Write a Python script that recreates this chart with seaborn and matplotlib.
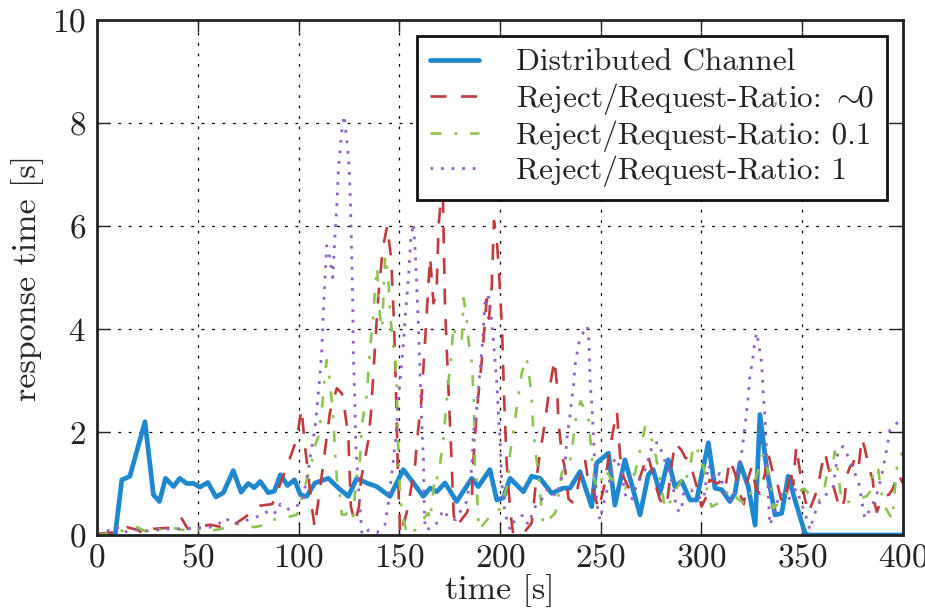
import numpy as np
import pandas as pd
import matplotlib
matplotlib.use("Agg")
import matplotlib.pyplot as plt
import seaborn as sns

# ---------------- data ----------------
blue_t = [0, 9, 12.3, 16.3, 23.8, 28, 31, 34, 38, 41,
          44.5, 48, 51, 55, 59, 62.7, 67.6, 71.5, 75, 78,
          81, 85, 88, 91, 94.5, 98, 101, 104, 108.2, 114.8,
          119.8, 124.7, 128.9, 133.8, 138.8, 145.4, 152, 157, 161.9, 165.3,
          168.6, 172.7, 178.5, 186, 189.2, 195, 198.4, 201.6, 205, 211.6,
          215.7, 219.9, 225.6, 231.4, 234.7, 239.7, 245.5, 248, 253.8, 257,
          262, 269.5, 273.6, 276, 279.4, 283.5, 286.8, 290.2, 294.3, 297.6,
          303.4, 306.7, 310, 314.1, 316.6, 319.1, 323.2, 326.6, 329, 332.4,
          336.5, 339.8, 343, 346.4, 351.4, 353, 400]
blue_v = [0, 0, 1.07, 1.14, 2.2, 0.78, 0.65, 1.1, 0.94, 1.1,
          1.0, 1.0, 0.93, 1.02, 0.74, 0.82, 1.25, 0.83, 1.0, 0.92,
          1.04, 0.82, 0.85, 1.17, 0.96, 1.07, 0.78, 0.75, 1.01, 1.10,
          0.91, 0.75, 1.10, 1.01, 0.94, 0.75, 1.27, 1.01, 0.75, 0.91,
          0.84, 1.01, 0.65, 1.10, 0.94, 1.27, 0.68, 0.72, 1.10, 0.84,
          1.14, 1.10, 0.81, 0.91, 0.91, 1.23, 0.55, 1.40, 1.59, 0.58,
          1.46, 0.39, 1.17, 1.27, 0.81, 1.46, 0.94, 1.04, 0.68, 0.68,
          1.79, 0.91, 0.88, 0.65, 0.81, 1.40, 0.94, 0.19, 2.34, 1.27,
          0.39, 0.42, 1.14, 0.68, 0.03, 0, 0]

red_t = [0, 8, 15, 20, 24, 28, 36, 42, 45, 50,
         56, 61, 68, 74, 78, 81, 87, 91, 93, 96,
         99, 101.5, 103, 104, 106.5, 108, 111.5, 113, 115.6, 119,
         121.5, 123, 124.7, 126, 128, 130, 131, 134.7, 136, 138,
         139.6, 141.8, 144, 146, 147.4, 148.5, 149.3, 150.5, 153.7, 157.8,
         158.7, 161, 163, 165.3, 167, 168.5, 169.5, 171.5, 172.7, 174,
         175.8, 177, 178.2, 183.5, 186, 186.8, 188.4, 191, 193.4, 194.5,
         195.9, 197, 198.4, 199.5, 201, 202, 203.3, 205, 206.5, 208.3,
         211, 215.7, 218, 219.9, 222.3, 224, 225.6, 227, 228.3, 229,
         230.6, 232.3, 234, 236.4, 238.4, 239.7, 242.2, 244, 246, 249,
         252, 253.7, 256, 258, 259.6, 261.2, 264, 268, 271, 273.4,
         275.3, 277, 279.4, 282.7, 285, 286.8, 290, 292, 294, 296.7,
         298, 300, 302.5, 304, 308, 311, 312, 314, 316.6, 319,
         321, 322.4, 325, 327, 329, 331.5, 333, 335.5, 338, 340,
         342, 344, 345.5, 347, 349, 351.4, 353, 356.3, 358, 359.6,
         361.3, 363, 366, 367.8, 369.7, 371, 372, 373.7, 375, 376,
         378, 379.5, 381, 383, 385, 386, 387, 390, 393, 395,
         397.5, 400]
red_v = [0.02, 0.05, 0.15, 0.1, 0.0, 0.12, 0.14, 0.32, 0.12, 0.15,
         0.2, 0.16, 0.2, 0.36, 0.5, 0.57, 0.6, 1.0, 1.2, 1.52,
         1.85, 2.45, 1.8, 1.46, 0.58, 0.15, 1.14, 1.6, 2.38, 2.85,
         2.75, 2.4, 1.92, 0.55, 0.22, 0.55, 1.07, 1.85, 2.4, 3.67,
         4.64, 5.56, 6.0, 5.36, 4.1, 2.6, 1.2, 0.0, 0.43, 1.33,
         1.79, 2.63, 3.9, 5.4, 4.5, 4.7, 6.0, 6.9, 4.45, 3.2,
         1.6, 0.4, 0.16, 0.43, 0.68, 1.46, 2.37, 3.4, 4.58, 4.2,
         4.84, 6.1, 5.75, 5.1, 4.0, 2.7, 1.4, 0.5, 0.03, 0.05,
         0.0, 0.23, 1.07, 1.6, 2.18, 2.7, 3.08, 3.4, 2.9, 2.2,
         1.6, 1.27, 0.7, 0.62, 0.88, 1.14, 1.46, 1.0, 0.9, 0.5,
         1.0, 1.46, 2.0, 2.4, 1.53, 1.14, 0.9, 0.95, 1.3, 1.56,
         1.27, 1.0, 0.68, 0.55, 1.3, 1.79, 1.65, 1.5, 1.46, 1.07,
         0.9, 0.55, 0.75, 1.07, 1.0, 1.1, 0.95, 1.46, 1.2, 0.8,
         0.6, 1.0, 1.33, 0.9, 0.8, 1.2, 1.6, 1.2, 0.94, 0.6,
         0.7, 1.27, 0.97, 1.72, 1.2, 0.68, 0.43, 0.75, 0.97, 1.33,
         1.6, 1.3, 0.88, 0.62, 0.5, 0.7, 1.14, 1.33, 1.35, 1.5,
         1.33, 1.88, 1.69, 1.33, 1.07, 0.6, 0.45, 0.75, 0.78, 0.9,
         1.2, 1.0]

green_t = [0, 10, 15, 20, 25, 30, 36, 42, 51, 56,
           62, 68, 71, 78, 84, 87, 91, 95, 99, 100.5,
           102, 104.7, 106, 108, 110, 111.5, 112.5, 114, 115.6, 117.3,
           118, 119, 120.6, 121.5, 123, 125, 127, 128, 129, 130.5,
           131.3, 134, 135.5, 137, 138, 139, 140.4, 141.5, 143, 144.5,
           145.5, 147, 148, 148.8, 149.8, 150.6, 152, 154, 158, 164.4,
           165.3, 167.7, 168.5, 170, 172, 173.9, 175.2, 176, 176.8, 178.5,
           181, 182, 183.5, 184.3, 186, 187, 187.6, 188.4, 189, 189.5,
           195, 196.7, 200, 203.3, 204, 205, 206.6, 208.3, 210.8, 213.2,
           214.8, 215.7, 216.5, 217.4, 219, 220.7, 221.5, 227.3, 228.1, 230.6,
           231.4, 234.7, 236.4, 237.3, 240, 243.8, 244.7, 246.3, 248, 251.3,
           252.1, 255, 262, 267, 270.3, 271.1, 272, 276, 278.7, 281.5,
           283, 286, 290.2, 291, 294.3, 296, 300, 301.6, 303, 305,
           310, 314, 318, 322, 325, 327, 330, 331.5, 333, 334.7,
           335.6, 338, 342, 344, 351, 356.3, 358, 361, 363, 364.6,
           366.2, 367.5, 369.5, 371.2, 376, 381.9, 383.6, 386, 387.7, 389,
           390.2, 391, 394.7, 396, 397.5, 400]
green_v = [0.0, 0.05, 0.12, 0.15, 0.05, 0.1, 0.15, 0.1, 0.1, 0.08,
           0.12, 0.2, 0.22, 0.15, 0.2, 0.3, 0.3, 0.35, 0.39, 0.5,
           0.8, 1.15, 1.3, 1.72, 1.92, 2.4, 2.85, 3.4, 2.99, 2.24,
           1.7, 1.1, 0.75, 0.4, 0.39, 0.45, 0.3, 0.78, 1.14, 1.46,
           2.1, 2.76, 3.64, 4.19, 4.8, 5.2, 4.26, 4.0, 5.43, 5.03,
           4.3, 3.67, 3.48, 2.8, 1.25, 0.7, 0.3, 0.0, 0.1, 0.43,
           0.29, 1.14, 1.07, 1.3, 1.9, 2.76, 3.28, 3.54, 4.06, 3.8,
           3.77, 4.6, 4.16, 3.8, 3.35, 2.6, 1.27, 1.07, 0.45, 0.1,
           0.36, 0.45, 0.5, 0.92, 1.07, 1.59, 2.0, 2.47, 3.15, 3.44,
           3.0, 2.63, 2.05, 1.7, 1.2, 0.49, 0.2, 0.42, 0.52, 1.2,
           1.27, 1.4, 1.88, 2.2, 2.6, 2.3, 1.92, 1.2, 0.9, 1.14,
           1.27, 1.1, 0.9, 1.2, 1.79, 1.92, 2.1, 1.8, 1.25, 0.6,
           0.5, 0.8, 1.07, 0.97, 1.3, 1.75, 1.53, 1.2, 0.8, 0.55,
           0.65, 0.9, 0.7, 0.6, 0.85, 1.1, 1.53, 1.59, 1.2, 0.9,
           0.52, 0.6, 0.81, 0.78, 0.9, 0.68, 0.65, 0.9, 1.33, 1.23,
           1.62, 1.3, 0.68, 0.62, 0.68, 0.75, 0.84, 1.33, 1.27, 0.9,
           0.62, 0.55, 0.3, 0.9, 1.5, 1.6]

purple_t = [0, 10, 12, 20, 25, 30, 38, 45, 50, 56,
            60, 63.5, 68, 72, 77, 82, 86, 89, 91, 95,
            98.3, 100, 102.4, 103, 104.9, 106.5, 108.2, 109.8, 111.5, 112.3,
            113.2, 114, 115.5, 117, 118, 119, 119.8, 121.4, 122.6, 123.9,
            125.2, 125.9, 126.4, 126.9, 127.2, 128, 128.5, 129.7, 130.4, 131.5,
            135, 139, 142.9, 144.6, 146, 148.4, 149.5, 152, 152.8, 154.5,
            155.7, 157, 157.8, 158.7, 159.5, 160.2, 161.1, 162, 162.4, 162.9,
            167.7, 171.9, 175, 178, 181, 183.5, 186, 186.8, 188.4, 190,
            191.7, 192.6, 194.2, 195.5, 196.7, 197.5, 198.4, 199.2, 200, 200.8,
            201.6, 202.5, 205, 207.4, 211.6, 214, 218.2, 221.5, 223.6, 228,
            229.8, 232.3, 233.1, 234.7, 235.6, 236.4, 237.2, 238, 238.9, 240.5,
            243, 243.8, 244.3, 244.7, 245.5, 246.3, 247.1, 247.6, 248, 249.6,
            252, 254, 257, 260.4, 262, 263.7, 265.3, 267.9, 272, 276,
            279, 281, 283.5, 286, 287.7, 290, 291, 295, 296, 301,
            303.4, 306.7, 309, 312.7, 315.8, 318, 320, 321.6, 323.2, 324,
            324.9, 325.7, 326.6, 327.4, 328.2, 329, 329.8, 330.3, 330.7, 331.5,
            332, 332.6, 333, 333.6, 334, 339, 343, 347, 351.4, 353.8,
            356, 358.8, 365.4, 367.9, 370.4, 373, 376, 377.8, 379.5, 381,
            384.5, 387.8, 390, 391.9, 393.6, 395.5, 397.7, 400]
purple_v = [0.0, 0.15, 0.05, 0.1, 0.08, 0.1, 0.12, 0.12, 0.14, 0.15,
            0.2, 0.33, 0.22, 0.25, 0.33, 0.38, 0.5, 0.42, 0.6, 0.5,
            0.52, 0.6, 0.68, 0.88, 1.27, 1.69, 2.08, 2.73, 3.54, 4.32,
            5.0, 5.62, 5.4, 5.0, 5.75, 6.4, 7.1, 7.83, 8.15, 7.7,
            7.1, 6.27, 5.42, 4.58, 3.54, 2.5, 1.66, 1.01, 0.6, 0.0,
            0.1, 0.05, 0.2, 0.62, 1.1, 1.92, 2.63, 3.67, 4.15, 4.97,
            5.75, 6.05, 5.6, 4.84, 4.06, 3.28, 2.24, 1.46, 0.55, 0.1,
            0.16, 0.49, 0.3, 0.3, 0.5, 0.65, 1.3, 1.98, 2.44, 3.15,
            3.93, 4.58, 4.65, 4.3, 3.8, 3.4, 2.96, 2.37, 1.85, 1.07,
            0.68, 0.42, 0.1, 0.29, 0.39, 0.2, 0.62, 0.72, 0.9, 0.75,
            1.0, 1.33, 1.85, 2.31, 2.63, 2.86, 3.28, 3.47, 3.7, 3.87,
            4.06, 3.96, 3.57, 3.0, 2.57, 1.98, 1.33, 0.94, 0.62, 0.29,
            0.7, 1.0, 1.5, 1.27, 0.8, 0.68, 0.68, 0.97, 1.27, 1.79,
            1.79, 1.5, 1.3, 0.91, 0.49, 0.45, 0.8, 0.88, 0.8, 0.68,
            1.36, 1.07, 1.2, 0.68, 0.68, 1.2, 1.62, 2.11, 2.7, 3.08,
            3.28, 3.5, 3.8, 3.93, 3.75, 3.54, 3.35, 3.05, 2.7, 2.3,
            1.85, 1.33, 0.94, 0.42, 0.19, 0.81, 0.68, 0.9, 0.42, 0.1,
            0.4, 0.65, 0.94, 1.66, 1.72, 1.5, 1.2, 1.07, 0.68, 0.32,
            0.55, 0.88, 1.27, 1.66, 2.05, 2.1, 2.21, 2.2]

labels = ["Distributed Channel",
          r"Reject/Request-Ratio: $\sim\!\!$0",
          "Reject/Request-Ratio: 0.1",
          "Reject/Request-Ratio: 1"]
x_ticks = [0, 50, 100, 150, 200, 250, 300, 350, 400]
y_ticks = [0, 2, 4, 6, 8, 10]

# ---------------- style ----------------
sns.set_theme(style="white")
plt.rcParams.update({
    "font.family": ["cmr10", "DejaVu Serif"],
    "mathtext.fontset": "cm",
    "axes.formatter.use_mathtext": True,
    "axes.unicode_minus": False,
    "lines.scale_dashes": False,
    "axes.edgecolor": "#222222",
    "axes.linewidth": 2.0,
    "xtick.direction": "in",
    "ytick.direction": "in",
    "xtick.top": True,
    "ytick.right": True,
    "xtick.bottom": True,
    "ytick.left": True,
    "xtick.major.size": 8.5,
    "ytick.major.size": 8.5,
    "xtick.major.width": 1.0,
    "ytick.major.width": 1.0,
    "xtick.color": "#222222",
    "ytick.color": "#222222",
    "xtick.major.pad": 6,
    "ytick.major.pad": 8,
    "text.color": "#222222",
})

fig = plt.figure(figsize=(9.25, 6.1), dpi=100)
ax = fig.add_axes([0.1049, 0.123, 0.8713, 0.844])

series = [
    (blue_t, blue_v, "#1f87d0", 3.4, "-"),
    (red_t, red_v, "#c13a3c", 1.9, (0, (11.5, 10.5))),
    (green_t, green_v, "#8dc44f", 1.9, (0, (8, 9.2, 2.2, 9.2))),
    (purple_t, purple_v, "#9061c2", 2.0, (0, (2.0, 5.6))),
]
for (t, v, c, lw, ls), lab in zip(series, labels):
    df = pd.DataFrame({"time": t, "resp": v})
    sns.lineplot(data=df, x="time", y="resp", ax=ax, color=c, linewidth=lw,
                 linestyle=ls, label=lab, estimator=None, sort=False,
                 errorbar=None)

ax.set_xlim(0, 400)
ax.set_ylim(0, 10)
ax.set_xticks(x_ticks)
ax.set_yticks(y_ticks)
ax.tick_params(labelsize=24)
ax.grid(True, color="black", linestyle=(0, (2.0, 5.5)), linewidth=0.9)
ax.set_axisbelow(True)
ax.set_xlabel("time [s]", fontsize=24.5, labelpad=1)
ax.set_ylabel("response time [s]", fontsize=24.5, labelpad=6)

leg = ax.legend(loc="upper right", fontsize=22.5, frameon=True, fancybox=False,
                framealpha=1, edgecolor="#111111", handlelength=1.55,
                handletextpad=1.2, labelspacing=0.12, borderpad=0.42,
                borderaxespad=0.5)
leg.get_frame().set_linewidth(2.0)

fig.savefig("out.png", dpi=100)
